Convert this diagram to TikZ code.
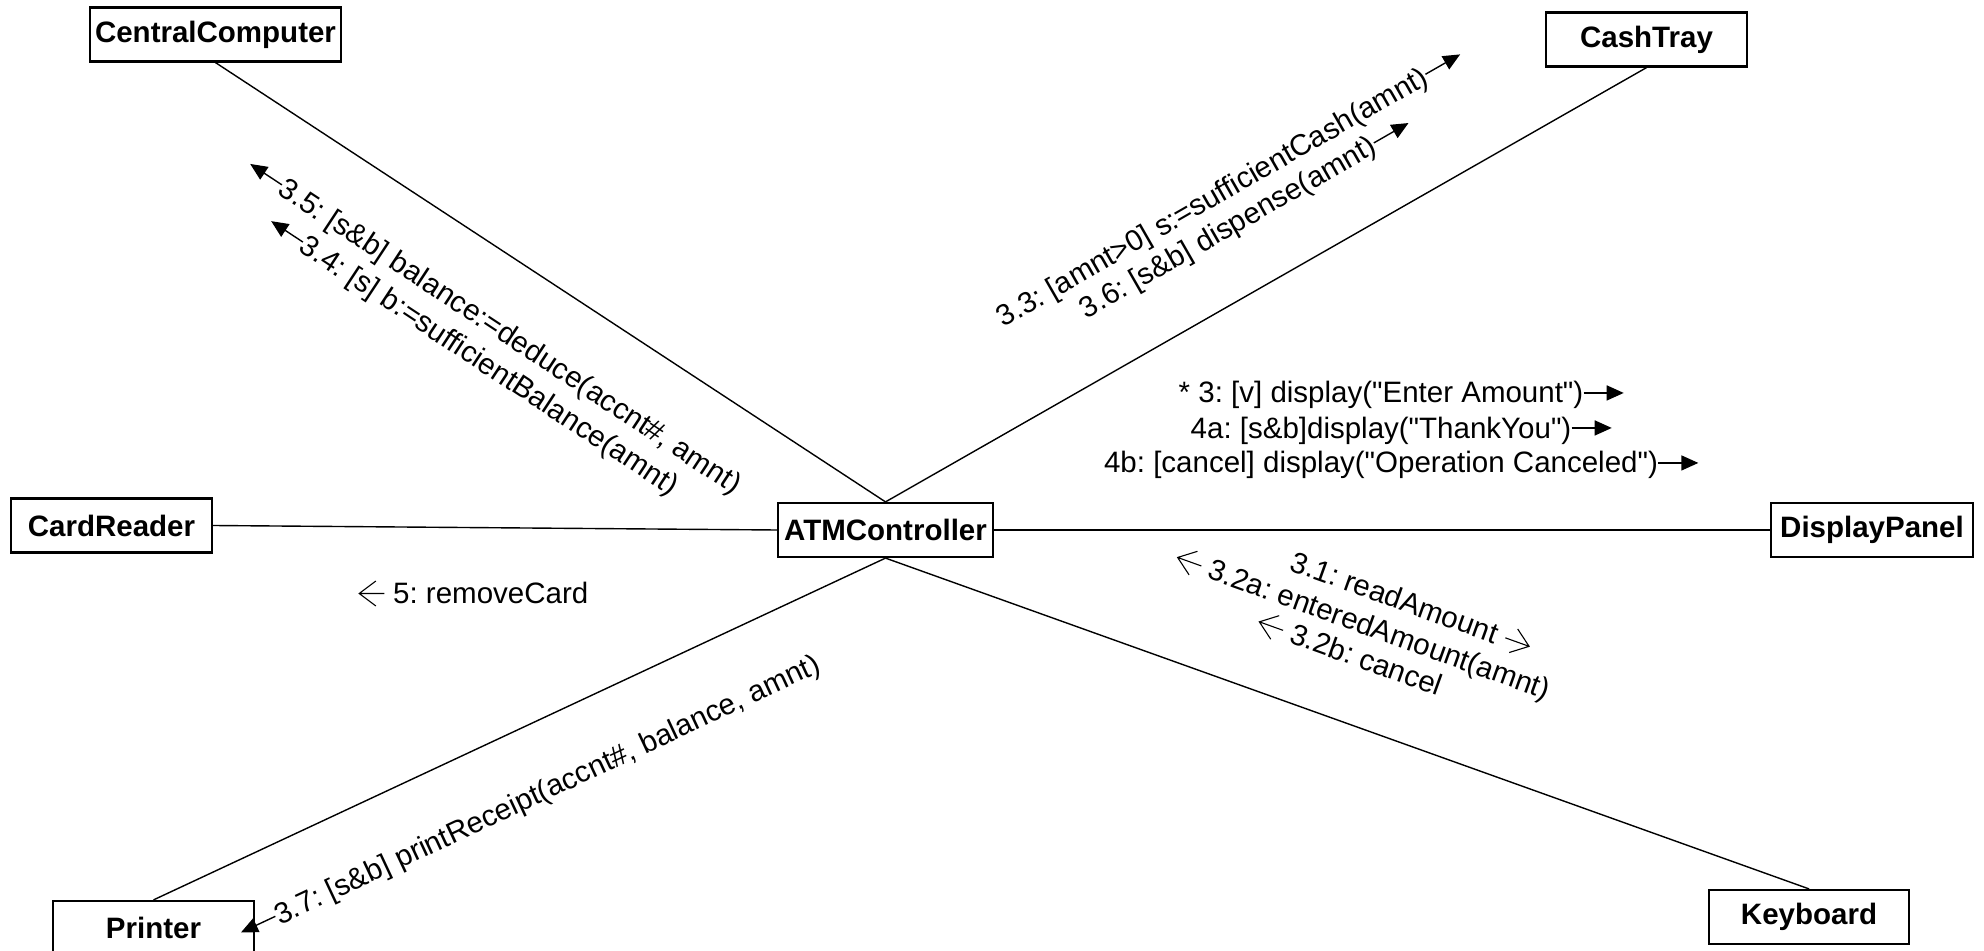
\documentclass[tikz,border=0pt]{standalone}
\usepackage{fontspec}
\setmainfont{Liberation Sans}
\setmonofont{Liberation Sans}
\usetikzlibrary{arrows.meta,calc}
\newcommand\dq{{\ttfamily\char34}}
\newcommand\arL{\tikz[baseline=0pt]{\draw[line width=0.55pt, line join=miter] (13pt,4.75pt) -- (0.4pt,4.75pt) (8.7pt,11pt) -- (0.4pt,4.75pt) -- (8.7pt,-1.5pt);}}
\newcommand\arR{\tikz[baseline=0pt]{\draw[line width=0.55pt, line join=miter] (0pt,4.75pt) -- (12.6pt,4.75pt) (4.3pt,11pt) -- (12.6pt,4.75pt) -- (4.3pt,-1.5pt);}}
\begin{document}
\begin{tikzpicture}[x=0.5pt,y=-0.5pt,
  every node/.style={font=\fontsize{14.75pt}{17.5pt}\selectfont\frenchspacing},
  obj/.style={draw, line width=1.1pt, fill=white, inner sep=0pt, minimum height=27pt,
    font=\fontsize{14.75pt}{17.5pt}\selectfont\bfseries},
  link/.style={line width=0.7pt},
  msg/.style={inner sep=0pt, text height=13.3pt, text depth=3.25pt},
  sarrow/.style={line width=0.7pt, -{Triangle[length=8.5pt,width=7.5pt]}}
]
\clip (0,0) rectangle (1984,951);
\fill[white] (0,0) rectangle (1984,951);

% objects
\node[obj, minimum width=125.5pt] (cc) at (215.5,34.5) {CentralComputer};
\node[obj, minimum width=100.5pt] (ct) at (1646.5,39.5) {CashTray};
\node[obj, minimum width=100.5pt] (cr) at (111.5,525.5) {CardReader};
\node[obj, minimum width=107.5pt] (atm) at (885.5,530) {ATMController};
\node[obj, minimum width=101pt] (dp) at (1872,530) {DisplayPanel};
\node[obj, minimum width=100.5pt] (pr) at (153.5,928) {Printer};
\node[obj, minimum width=100pt] (kb) at (1809,917) {Keyboard};

% links
\draw[link] (cc.south) -- (atm.north);
\draw[link] (ct.south) -- (atm.north);
\draw[link] (cr.east) -- (atm.west);
\draw[link] (atm.east) -- (dp.west);
\draw[link] (pr.north) -- (atm.south);
\draw[link] (kb.north) -- (atm.south);

% CentralComputer messages
\node[msg, rotate=-33.4, anchor=base] (l35) at (505,344) {3.5: [s\&b] balance:=deduce(accnt\#, amnt)};
\draw[sarrow] (l35.west) -- ($(l35.west)!-19pt!(l35.east)$);
\node[msg, rotate=-33.4, anchor=base] (l34) at (484,373.5) {3.4: [s] b:=sufficientBalance(amnt)};
\draw[sarrow] (l34.west) -- ($(l34.west)!-19pt!(l34.east)$);

% CashTray messages
\node[msg, rotate=29.85, anchor=base] (l33) at (1217,205.5) {3.3: [amnt>0] s:=sufficientCash(amnt)};
\draw[sarrow] (l33.east) -- ($(l33.east)!-20pt!(l33.west)$);
\node[msg, rotate=29.85, anchor=base] (l36) at (1232.7,235.5) {3.6: [s\&b] dispense(amnt)};
\draw[sarrow] (l36.east) -- ($(l36.east)!-20pt!(l36.west)$);

% DisplayPanel messages
\node[msg, anchor=base] (l3) at (1381,403) {* 3: [v] display(\dq Enter Amount\dq)};
\draw[sarrow] (l3.east) -- ++(40,0);
\node[msg, anchor=base] (l4a) at (1381,438) {4a: [s\&b]display(\dq ThankYou\dq)};
\draw[sarrow] (l4a.east) -- ++(40,0);
\node[msg, anchor=base] (l4b) at (1381,473) {4b: [cancel] display(\dq Operation Canceled\dq)};
\draw[sarrow] (l4b.east) -- ++(40,0);

% Keyboard messages
\node[msg, rotate=-19.75, anchor=base] (l31) at (1407.5,612.8) {3.1: readAmount \arR};
\node[msg, rotate=-19.75, anchor=base] (l32a) at (1359.9,633) {\arL\ 3.2a: enteredAmount(amnt)};
\node[msg, rotate=-19.75, anchor=base] (l32b) at (1346.7,663.3) {\arL\ 3.2b: cancel};

% CardReader message
\node[msg, anchor=base] (l5) at (473.5,603) {\arL\ 5: removeCard};

% Printer message
\node[msg, rotate=25.1, anchor=base] (l37) at (551,798.3) {3.7: [s\&b] printReceipt(accnt\#, balance, amnt)};
\draw[sarrow] (l37.west) -- ($(l37.west)!-19pt!(l37.east)$);
\end{tikzpicture}
\end{document}
